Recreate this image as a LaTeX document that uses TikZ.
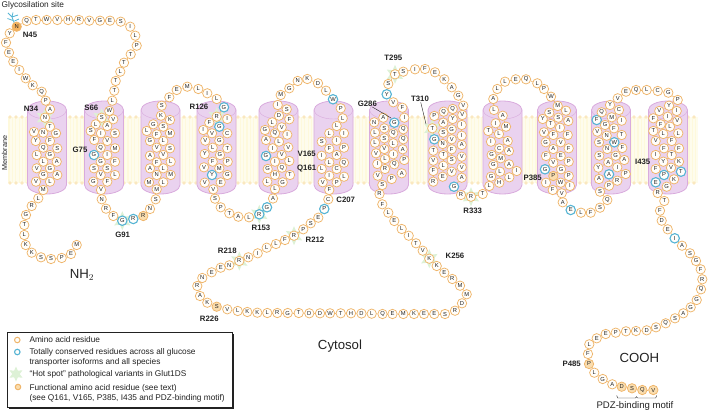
\documentclass[tikz,border=0pt]{standalone}
\usepackage{fontspec}
\setmainfont{Liberation Sans}
\usepackage{tikz}
\usetikzlibrary{shapes.geometric}
\definecolor{aaline}{HTML}{EFB56A}
\definecolor{aafill}{HTML}{FFFEFB}
\definecolor{funcfill}{HTML}{FADDAE}
\definecolor{glycfill}{HTML}{F5B25F}
\definecolor{consline}{HTML}{55B4D4}
\definecolor{hotfill}{HTML}{DDF1D6}
\definecolor{cylfill}{HTML}{EAD2EF}
\definecolor{cylline}{HTML}{D9ABDD}
\definecolor{lipidtail}{HTML}{FEF9DC}
\definecolor{lipidhead}{HTML}{FAE8C0}
\definecolor{inktext}{HTML}{222222}
\tikzset{aa/.style = {draw=aaline, fill=aafill, line width=0.75pt, circle, inner sep=0pt, minimum size=9.4pt, text=inktext, font=\fontsize{5.8}{6}\selectfont},
         func/.style = {aa, fill=funcfill},
         glyc/.style = {aa, fill=glycfill},
         cons/.style = {aa, draw=consline, line width=1.1pt},
         link/.style = {draw=aaline, line width=0.7pt},
         hotstar/.style = {star, star points=6, star point ratio=2, inner sep=0pt, minimum size=19pt, fill=hotfill, draw=none},
         lab/.style = {inner sep=0pt, text=inktext, font=\fontsize{7.8}{8}\selectfont\bfseries},
         note/.style = {inner sep=0pt, anchor=west, text=inktext, font=\fontsize{8.3}{9}\selectfont},
         big/.style = {inner sep=0pt, text=inktext, font=\fontsize{13.2}{14}\selectfont},
         cyl/.pic = {\path[draw=cylline, line width=0.8pt, fill=cylfill]
                         (-19.5,0) -- (-19.5,75) arc[start angle=180, end angle=0, x radius=19.5, y radius=9]
                         -- (19.5,0) arc[start angle=0, end angle=-180, x radius=19.5, y radius=9] -- cycle;
                     \draw[cylline, line width=0.4pt] (-19.5,0) arc[start angle=180, end angle=0, x radius=19.5, y radius=9];}}
\newcommand{\aarun}[2]{%
  \foreach \x/\y/\res/\st [count=\n] in {#2} {
    \node[\st] (#1\n) at (\x,\y) {\res};
    \draw[link] (\aalast) -- (#1\n);
    \xdef\aalast{#1\n}
  }}
\newcommand{\aahelix}[2]{%
  \foreach \x/\y/\res/\st [count=\n] in {#2} {
    \node[\st] (#1\n) at (\x,\y) {\res};
    \ifnum\n=1 \draw[link] (\aalast) -- (#1\n); \fi
    \xdef\aalast{#1\n}
  }
  \foreach \x/\y/\res/\st [count=\n] in {#2} {
    \foreach \xb/\yb/\resb/\stb [count=\m] in {#2} {
      \ifnum\m>\n
        \pgfmathtruncatemacro{\near}{veclen(\x-\xb,\y-\yb)<11.5 ? 1 : 0}
        \ifnum\near=1 \draw[link] (#1\n) -- (#1\m); \fi
      \fi
    }
  }}
\begin{document}
\begin{tikzpicture}[x=1pt,y=-1pt]
    \useasboundingbox (0,0) rectangle (709,412);

    \fill[lipidtail!50] (8,117) rectangle (698,183);
    \foreach \x in {9,12.4,...,698} \draw[lipidtail, line width=1.2pt] (\x,117) -- (\x,183);
    \foreach \x in {10,16,...,698} {
        \fill[lipidhead] (\x,117) circle (1.9);
        \fill[lipidhead] (\x,183) circle (1.9);
    }
    \foreach \x in {47,104,160.5,216.5,278.5,333.5,389,447.5,502.5,557,611,668} \pic at (\x,110) {cyl};

    \foreach \x/\y [count=\n] in {45/117.7,101.7/117.7,122.3/220.7,216.7/116.7,259.3/214.3,294/235.7,239.3/261,429.3/258.7,395/74.3,432.3/128.3,471/196.7}
        \node[hotstar] (hot\n) at (\x,\y) {};

    \draw[consline, line width=0.8pt] (15,25) -- (12,17) -- (8,13) (12,17) -- (13,12.5) (12,17) -- (18,15) (13,20.5) -- (7.5,18.5) (14.5,21) -- (19,19);

    \node[aa] (start) at (76.7,245) {M};
    \def\aalast{start}
    \aarun{a}{71/254/E/aa,61.7/258/P/aa,51/259/S/aa,41/257.3/S/aa,31.7/252.7/K/aa,25.7/245/K/aa,24.3/235/L/aa,24.3/225/T/aa,26/215/G/aa,31.7/206/R/aa,38.3/198.3/L/aa}
    \aahelix{ha}{43.3/190/M/aa,36/181.7/V/aa,50/181.7/L/aa,43.3/175/G/aa,57.3/175/A/aa,36.7/168.3/V/aa,50/168.3/G/aa,43.3/161.7/L/aa,56.7/161.7/A/aa,36.7/155/L/aa,50/155/G/aa,43.3/147.7/Q/aa,57.3/148.3/S/aa,35.7/141/Y/aa,50/141/F/aa,34/132/V/aa,43.3/132.7/N/aa,56/133.3/G/aa,50/126.7/T/aa,45/117.7/N/aa}
    \aarun{b}{50/109.3/A/aa,45.7/100.7/P/aa,41.7/91.7/Q/aa,32.7/85.3/K/aa,25.7/78.3/W/aa,19.3/70/I/aa,13.3/61.7/E/aa,9/52.7/E/aa,6/42.7/F/aa,9.7/33.3/Y/aa,16.7/26.7/N/glyc,26.7/21/Q/aa,36/20/T/aa,46.7/20/W/aa,57.3/20/V/aa,68.3/20/H/aa,79/20/R/aa,89.3/20.7/V/aa,100/20.7/G/aa,110/20.7/E/aa,120.7/21.7/S/aa,130.3/26.7/I/aa,135.3/35.7/L/aa,136.7/45.7/P/aa,130.7/54.3/T/aa,124/62.7/T/aa,120.3/71.7/L/aa,115.7/81/T/aa,114.3/90.7/T/aa,112.3/100.7/L/aa}
    \aahelix{hb}{109.3/111/W/aa,113.3/119.3/V/aa,101.7/117.7/S/aa,107.3/126/A/aa,95.7/124.3/L/aa,90.7/131/S/aa,101/133.3/I/aa,115/133.3/S/aa,94.3/140/F/aa,107.3/141/V/aa,100.7/147.7/Q/aa,115/148.3/M/aa,94/155/G/cons,107.3/155/I/aa,100.7/161.7/G/aa,115/161.7/F/aa,94/168.3/S/aa,107.3/168.3/S/aa,100.7/175/V/aa,115/175/L/aa,93.3/181.7/G/aa,107.3/181.7/F/aa,101/190/V/aa}
    \aarun{c}{101.7/199.3/N/aa,106/208.7/R/aa,113.3/216/F/aa,122.3/220.7/G/cons,133.3/219/R/cons,143.3/216/R/func,150/209/N/aa,155.7/199.3/S/aa}
    \aahelix{hc}{156.7/189.3/M/aa,149/182.3/M/aa,163.3/182.3/L/aa,156.7/175/N/aa,170.7/175/M/aa,150/168.3/A/aa,163.3/168.3/L/aa,156.7/162.3/F/aa,170.7/161.7/L/aa,150/155.7/A/aa,163.3/155/V/aa,156.7/147.7/V/aa,170/148.3/S/aa,150/141/G/aa,163.3/141/L/aa,146.7/131/L/aa,156.7/134.3/F/aa,170/133.3/M/aa,153.3/124.3/G/aa,163.3/126.7/S/aa,170/120/K/aa,161/115.7/K/aa,161.7/105.7/S/aa}
    \aarun{d}{169.3/97.3/F/aa,176.7/90/E/aa,187.3/86.7/M/aa,198.3/89/L/aa,207.3/93.3/I/aa,216.7/99/L/aa,224/107.3/G/cons}
    \aahelix{hd}{216.7/116.7/R/aa,227.3/119/I/aa,209.3/122.7/F/aa,219.3/126.7/G/cons,203.3/130/I/aa,212/133.3/V/aa,227.3/133.3/C/aa,205.3/140.7/V/aa,219.3/140.7/G/aa,212.7/147.7/L/aa,227.3/148.3/T/aa,204.7/154/Y/aa,220/155/G/aa,212.7/161.7/F/aa,227.7/161.7/P/aa,204/167.3/V/aa,219.3/168.3/M/aa,212/175/Y/cons,227.3/175/G/aa,204.7/182.7/V/aa,220.7/182.3/E/aa,213.3/189.3/V/aa}
    \aarun{e}{215/198.7/S/aa,220.7/207.3/P/aa,229.3/213.3/T/aa,238.3/216.7/A/aa,249/217.3/L/aa,259.3/214.3/R/cons,267/207.3/G/cons,273/198.5/A/aa}
    \aahelix{he}{275/189/L/aa,267.3/181.7/L/aa,282.7/182.3/G/aa,275/175/H/aa,290/175/T/aa,267.7/169/G/aa,282/167.7/Q/aa,275/161.7/I/aa,289.3/161/L/aa,266/156/G/cons,281.7/155/V/aa,272.7/148.3/I/aa,288.3/147.3/V/aa,266/140/A/aa,279/141.7/L/aa,265/130/G/aa,275/133.3/Q/aa,287.3/134.7/I/aa,281.7/127.3/V/aa,272.3/122.3/L/aa,289.3/119.3/F/aa,279/115.7/D/aa,286.7/109.3/S/aa,277.7/105/I/aa}
    \aarun{f}{280.7/95/M/aa,289.3/88.3/G/aa,297.7/81/N/aa,307.3/79/K/aa,318/83.3/D/aa,326/90.7/L/aa,333/99.3/W/cons}
    \aahelix{hf}{340.7/108.3/P/aa,342.7/118.3/L/aa,336.7/126/L/aa,329.3/133.3/L/aa,344/133.3/I/aa,321.7/141.7/S/aa,336.7/140.7/I/aa,329.3/148.7/F/aa,344/147.7/P/aa,321.7/155.7/I/aa,336.7/155/A/aa,329.3/162.3/L/aa,344/162.7/Q/aa,321.7/169/L/aa,336.7/169/C/aa,329.3/175.7/I/aa,344/176.7/L/aa,322.7/182.3/V/aa,336.7/182.3/P/aa,329.3/190/F/aa}
    \aarun{g}{328.3/199.3/C/aa,324.3/209/P/cons,318.3/217.7/E/aa,310.7/223.3/S/aa,303.3/229.3/P/aa,294/235.7/R/aa,285/240/F/aa,276/244/L/aa,266.7/247.7/L/aa,257.7/253.3/I/aa,248.3/257.3/N/aa,239.3/261/R/aa,229.3/265.3/N/aa,220.7/267.7/E/aa,211.7/272.3/E/aa,202.3/278/N/aa,197.3/286/R/aa,200/296/A/aa,207.3/302.7/K/aa,216.7/306.7/S/func,227.3/309.3/V/aa,237.7/311/L/aa,247.3/312/K/aa,257.3/312.7/K/aa,267.3/313/L/aa,277.3/313/R/aa,287.7/313/G/aa,298.7/313/T/aa,309.3/313.3/D/aa,320/313.3/D/aa,330/313.3/W/aa,340.7/313.3/T/aa,351/313.3/H/aa,361.5/313.5/D/aa,371.7/313.7/L/aa,382.5/314/Q/aa,392.5/314/E/aa,403.3/314/M/aa,414/314/K/aa,424/314/E/aa,434.3/314/E/aa,445/314/S/aa,455/310.7/R/aa,462/303.3/D/aa,466.7/294.3/M/aa,460/285.7/M/aa,452.3/279/R/aa,444.3/272.7/E/aa,436.7/266/K/aa,429.3/258.7/K/aa,422.7/250.7/V/aa,416/243.3/T/aa,408.7/235.7/I/aa,401.7/229/L/aa,394.3/221/E/aa,388.3/212.7/L/aa,382.3/204.3/F/aa,379.5/194/R/aa}
    \aahelix{hg}{382.3/185/S/aa,391.7/179/P/aa,401.7/173.3/A/aa,377.7/175.7/V/aa,385/169/R/aa,394.3/164.3/Q/aa,404.3/160/P/aa,377.3/164/I/aa,385/159/L/aa,376/153.3/V/aa,393.3/154.3/I/aa,402.7/149.3/A/aa,384.3/149/V/aa,393.3/143.3/L/aa,375/142.7/L/aa,403.3/139.3/Q/aa,384.3/138.3/S/aa,393.3/133.3/Q/aa,375/132.7/L/aa,403.3/129.3/Q/aa,384.3/128.3/S/aa,394.3/122.7/G/cons,374.3/122.3/N/aa,383.3/117.7/A/aa,404.3/117.7/I/aa,402.3/107.7/F/aa,393.3/102.3/V/aa}
    \aarun{i}{386.7/94.3/Y/cons,388.3/84/S/aa,395/74.3/T/aa,403.3/71.7/S/aa,415/69.3/I/aa,425/69/F/aa,435/72.3/E/aa,444.3/79.3/K/aa,451.7/87.3/A/aa,458.3/95.7/G/aa,463.3/105.7/V/aa}
    \aahelix{hh}{462.3/115/V/aa,452.7/109/Q/aa,443.7/111.7/Q/aa,434.3/116/P/aa,452.7/119/Y/aa,443.3/122.7/A/aa,461.7/125/I/aa,451.7/129.3/G/aa,432.3/128.3/T/aa,443.3/132.7/S/aa,434.3/139.3/G/cons,451.7/139.3/V/aa,461.7/135.7/I/aa,442.7/144/N/aa,461.7/145/A/aa,451.7/149.3/F/aa,433.3/150.7/T/aa,443.3/155/T/aa,461.7/156.7/V/aa,451.7/160/S/aa,433.3/160.7/V/aa,443.3/165.7/L/aa,461.7/167.3/V/aa,433.3/171/F/aa,451.7/171.7/V/aa,442.7/176.7/E/aa,433.3/181.7/R/aa,461.7/177.7/A/aa}
    \aarun{j}{454/186.7/G/cons,461/195/R/aa,471/196.7/R/aa,482.7/194/T/aa}
    \aahelix{hi}{489.3/186/L/aa,499.3/182.7/H/aa,491/176.7/G/aa,509.3/177.3/L/aa,516.7/171/I/aa,500/171.7/L/aa,493.3/165/G/aa,509/164.3/A/aa,500.7/158.3/M/aa,491.7/155/G/aa,509/151/A/aa,499.3/148.3/C/aa,491/141.7/I/aa,507.7/141/A/aa,499/134/L/aa,488.3/131/T/aa,506/126.7/M/aa,495.7/123.3/I/aa,502.7/115.7/A/aa,494/110/L/aa}
    \aarun{k}{493.3/99/A/aa,497.3/89/L/aa,505/81.7/L/aa,515.7/79.3/E/aa,526/79.3/Q/aa,537.3/83.3/L/aa,544/89/P/aa,551/96.7/W/aa}
    \aahelix{hj}{557.7/106/M/aa,566/110.7/L/aa,549.3/112.7/S/aa,558.3/117.7/S/aa,568.3/121/A/aa,542.7/119/Y/aa,550.7/124/T/aa,560/127.7/I/aa,544/132.3/V/aa,553.3/135/F/aa,567.7/135/F/aa,545.7/142.3/G/aa,560.7/142.3/V/aa,553.3/149/A/aa,568.7/148.3/F/aa,546/156/F/aa,560.7/156/E/aa,553.3/162.7/V/aa,568.7/161.7/P/aa,545/169.3/G/cons,561/169.3/G/aa,553.3/176/P/func,568.7/176/P/aa,546/182.7/I/aa,560.7/182.7/W/aa,570/186/I/aa,552.7/190/F/aa,561.7/193.3/V/aa}
    \aarun{m}{562.7/202.3/A/aa,570.7/210/E/cons,581/212.7/L/aa,590.7/212.7/F/aa,600/207.7/S/aa,607.3/200/Q/aa}
    \aahelix{hk}{600/191.7/S/aa,609/185.7/P/aa,599/179/A/aa,617.3/180.7/R/aa,625.7/174/P/aa,609/174.3/A/cons,598.3/167.7/Y/aa,617.3/167.3/I/aa,608.3/162.3/A/aa,624.3/160/A/aa,599.3/155.7/S/aa,615.7/155.7/G/aa,607.3/149/N/aa,622.3/148/F/aa,599/142.3/S/aa,614.3/142.3/W/cons,597.3/131.7/V/aa,606.7/135.7/N/aa,621.7/135/T/aa,605/125/G/aa,614/128.3/F/aa,596.7/120/F/cons,621.7/120.7/I/aa,611.7/117.3/M/aa,601.7/112.3/Q/aa,619/110/C/aa,610/105/Y/aa}
    \aarun{o}{617.7/98.3/V/aa,626/91.7/E/aa,636/90/Q/aa,646.7/90/L/aa,657.7/91/C/aa,668.3/92.7/G/aa,677.7/100/P/aa}
    \aahelix{hl}{669/105.7/Y/aa,676.7/111/I/aa,659.3/111/V/aa,667.7/116.7/I/aa,677.3/121/V/aa,653.3/118.3/F/aa,660.7/124.3/F/aa,670/126.7/L/aa,653.3/131/T/aa,663.3/134/L/aa,678.3/133.3/L/aa,655.7/141/V/aa,671.7/141/F/aa,664/148.3/F/aa,679/148.3/F/aa,655.7/155/I/aa,671.7/155/T/aa,663.3/161.7/Y/aa,679/161.7/K/aa,655.7/169/F/aa,671/167.7/V/aa,681/171.7/T/cons,664/175/P/cons,655.7/182.3/E/cons,674/179.3/K/aa,666.7/186.7/G/aa}
    \aarun{p}{657.7/193/R/aa,664.3/201/T/aa,660/210.7/F/aa,661.7/220.7/D/aa,667.7/229.3/E/aa,674.7/238.3/I/cons,682/245.7/A/aa,690/253.3/S/aa,696/261/G/aa,700.7/269.3/F/aa,702.3/279.3/R/aa,701/289.3/Q/aa,696.7/300/G/aa,690.7/307.3/G/aa,683.3/313.3/A/aa,675/318.3/S/aa,665.7/323.3/Q/aa,656/327.3/S/aa,646.7/330.3/D/aa,636/331/K/aa,626/331.3/T/aa,615.7/332.7/P/aa,605.7/334/E/aa,596.7/338.3/E/aa,589.3/344.3/L/aa,588/354/F/aa,589/364/P/func,594.3/372.7/L/aa,602.7/379/G/aa,612.3/384.3/A/aa,621.7/386.7/D/func,632/388.3/S/func,642.3/390/Q/func,653.3/390/V/func}

    \node[note] (glyco) at (1.5,5.7) {Glycosilation site};
    \node[note, rotate=90, anchor=center, font=\fontsize{7.2}{8}\selectfont] (mem) at (4.5,153) {Membrane};
    \node[lab] (n45) at (30,35) {N45};
    \node[lab] (n34) at (31,109.3) {N34};
    \node[lab] (s66) at (91.3,108) {S66};
    \node[lab] (r126) at (199,107) {R126};
    \node[lab] (g75) at (80,150) {G75};
    \node[lab] (g91) at (122.7,235.3) {G91};
    \node[lab] (r153) at (261,227.7) {R153};
    \node[lab] (v165) at (306.7,154) {V165};
    \node[lab] (q161) at (306.7,168.3) {Q161};
    \node[lab] (c207) at (345.7,200) {C207};
    \node[lab] (r212) at (315,240) {R212};
    \node[lab] (r218) at (227.3,251) {R218};
    \node[lab] (r226) at (209.3,318.5) {R226};
    \node[lab] (g286) at (367.3,104) {G286};
    \node[lab] (t295) at (393.3,57.7) {T295};
    \node[lab] (t310) at (420,99.3) {T310};
    \node[lab] (r333) at (472.7,211) {R333};
    \node[lab] (k256) at (455,256) {K256};
    \node[lab] (p385) at (532.7,178.3) {P385};
    \node[lab] (i435) at (642.7,161.7) {I435};
    \node[lab] (p485) at (571.7,364) {P485};
    \coordinate (g286end) at (391,118);
    \coordinate (t310end) at (426,124);
    \draw[inktext, line width=0.4pt] (g286) -- (g286end);
    \draw[inktext, line width=0.4pt] (t310) -- (t310end);

    \node[big] (nhtwo) at (82,275) {NH$_2$};
    \node[big] (cyto) at (340,346) {Cytosol};
    \node[big] (cooh) at (639.3,357.7) {COOH};
    \node[note, anchor=center, font=\fontsize{9.6}{10}\selectfont] (pdz) at (635,406.5) {PDZ-binding motif};
    \draw[inktext, line width=0.4pt] (616.7,395.5) -- (617.7,398) -- (635.5,398) -- (636.5,396.7) -- (637.5,398) -- (655.7,398) -- (656.7,395.5);

    \fill[inktext] (9,334) rectangle (233.8,408.8);
    \draw[fill=white, draw=inktext, line width=0.5pt] (7.3,332.3) rectangle (232.3,407.3);
    \node[aa, minimum size=5.5pt, line width=1pt] (keyaa) at (17.3,340) {};
    \node[cons, minimum size=5.5pt] (keycons) at (17.3,352) {};
    \node[hotstar, minimum size=15pt] (keyhot) at (16,374) {};
    \node[func, minimum size=5.5pt, line width=1pt] (keyfunc) at (18,387) {};
    \node[note] (keya) at (29.3,340) {Amino acid residue};
    \node[note] (keyb) at (29.3,352.5) {Totally conserved residues across all glucose};
    \node[note] (keyc) at (29.3,362.7) {transporter isoforms and all species};
    \node[note] (keyd) at (29.3,374.3) {“Hot spot” pathological variants in Glut1DS};
    \node[note] (keye) at (29.3,388) {Functional amino acid residue (see text)};
    \node[note] (keyf) at (29.3,398.3) {(see Q161, V165, P385, I435 and PDZ-binding motif)};
\end{tikzpicture}
\end{document}
